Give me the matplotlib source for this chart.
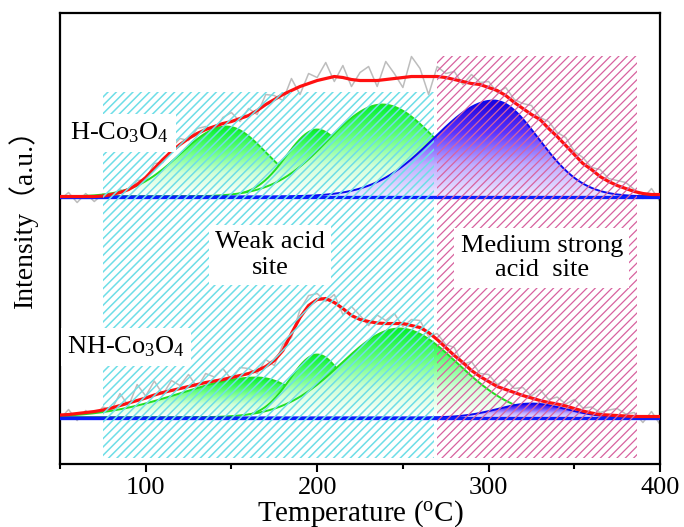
import numpy as np
import matplotlib
matplotlib.use('Agg')
import matplotlib.pyplot as plt
from matplotlib.patches import Rectangle, Polygon
from matplotlib.colors import LinearSegmentedColormap

plt.rcParams['font.family'] = ['Liberation Serif', 'Noto Sans CJK SC']
plt.rcParams['mathtext.fontset'] = 'custom'
plt.rcParams['mathtext.rm'] = 'Liberation Serif'
plt.rcParams['mathtext.default'] = 'regular'
plt.rcParams['hatch.linewidth'] = 1.1

# temperature grid of the read-off curves (°C)
temp = np.arange(50, 401, 5)

# cumulative fit (red), height above each baseline
red_h = [0, 0, 0, 0, 0, 0.5, 2, 4, 7, 12,
         19, 28, 37, 45, 52, 58, 63, 67, 70, 73,
         75, 78, 81, 86, 92, 97, 102, 106, 110, 113,
         116, 118, 120, 119, 117, 116, 116, 116, 117, 118,
         119, 120, 120, 120, 120, 119, 117, 115, 113, 112,
         109, 106, 101, 94, 88, 82, 77, 68, 60, 51,
         42, 33, 27, 20, 15, 11, 8, 5, 3, 2,
         2]
red_nh = [2.5, 3, 4, 5, 6, 7.5, 9.5, 12, 14.5, 17,
          19.5, 22.5, 25, 27, 29, 31, 33, 35, 36.5, 38,
          40, 42, 44, 47, 51, 57, 67, 84, 100, 112,
          118, 119, 115, 109, 102, 98, 96, 94.5, 94, 94,
          94, 92, 90, 85, 78, 70, 62, 55, 47, 41,
          36, 31, 28, 25, 22, 19.5, 17, 15, 13.5, 11.5,
          9, 6.5, 4.5, 3, 2.5, 2, 1.5, 1, 1, 1,
          1]

# raw signal scatter around the fit (grey trace)
noise_h = [-3, 4, -6, 3, -5, 2, -2, 3, -3, 4,
           -2, 5, -3, 4, 6, -2, 5, 3, -4, 6,
           9, -3, 7, -4, 10, 4, -6, 12, -8, 10,
           3, 16, -5, 12, -7, 8, 14, -6, 18, 5,
           -10, 20, 8, -18, 10, 4, 8, -3, 9, 2,
           6, -2, 8, 3, 5, 9, 2, 7, 4, 8,
           3, 6, 2, 7, 3, 5, 6, 2, -5, 6,
           -7]
noise_nh = [-4, 5, -7, 2, -6, 3, -2, 12, -3, 16,
            2, 14, -2, 10, 3, 12, -3, 9, 4, 11,
            -2, 8, 5, -3, 7, -5, 6, -4, 8, 10,
            6, -3, 8, -6, 9, 4, -4, 8, 3, 10,
            -3, 6, 7, -4, 6, 3, 8, -2, 9, 3,
            7, 2, 10, 4, 8, 2, 11, 3, 7, 2,
            9, 3, 6, 2, 5, 7, 2, 4, -6, 5,
            -8]

base_h = 267.5
base_nh = 46.5

# deconvoluted peaks: centre, height, left width, right width
h_green_c = [147, 200, 238]
h_green_a = [70, 67, 92]
h_green_sl = [27, 18, 32]
h_green_sr = [24, 18, 32]
h_blue = [303, 96, 35, 26]

nh_green_c = [165, 200, 248]
nh_green_a = [40, 63, 89]
nh_green_sl = [45, 16, 34]
nh_green_sr = [25, 16, 34]
nh_blue = [325, 14, 20, 20]

green_cmap = LinearSegmentedColormap.from_list('g', ['#ffffff', '#d2ffd8', '#60ff78', '#00f02a'])
blue_cmap = LinearSegmentedColormap.from_list('b', ['#eee8ff', '#c0aeff', '#5a34ff', '#1800dc'])


def split_gauss(x, c, a, sl, sr):
    s = np.where(x < c, sl, sr)
    return a * np.exp(-(x - c) ** 2 / (2 * s ** 2))


def draw_peak(ax, base, c, a, sl, sr, cmap, line_color, z):
    x = np.linspace(50, 400, 701)
    y = base + split_gauss(x, c, a, sl, sr)
    verts = np.column_stack([np.r_[x, x[::-1]], np.r_[y, np.full(x.size, base)]])
    patch = Polygon(verts, closed=True, facecolor='none', edgecolor='none', zorder=z)
    ax.add_patch(patch)
    grad = np.linspace(0, 1, 256).reshape(-1, 1)
    im = ax.imshow(grad, cmap=cmap, origin='lower', aspect='auto',
                   extent=[50, 400, base, base + a], zorder=z, interpolation='bilinear')
    im.set_clip_path(patch)
    ax.plot(x, y, color=line_color, lw=1.4, zorder=z + 0.1)


fig = plt.figure(figsize=(6.84, 5.27), dpi=100)
ax = fig.add_axes([0.0877, 0.1195, 0.8773, 0.8558])

# raw data
ax.plot(temp, base_h + np.array(red_h) + np.array(noise_h), color='#bdbdbd', lw=1.1, zorder=1)
ax.plot(temp, base_nh + np.array(red_nh) + np.array(noise_nh), color='#bdbdbd', lw=1.1, zorder=1)

# peaks
z = 2
for c, a, sl, sr in zip(h_green_c, h_green_a, h_green_sl, h_green_sr):
    draw_peak(ax, base_h, c, a, sl, sr, green_cmap, '#22e022', z)
    z += 0.3
draw_peak(ax, base_h, *h_blue, blue_cmap, '#0a0af0', z)

z = 2
for c, a, sl, sr in zip(nh_green_c, nh_green_a, nh_green_sl, nh_green_sr):
    draw_peak(ax, base_nh, c, a, sl, sr, green_cmap, '#22e022', z)
    z += 0.3
draw_peak(ax, base_nh, *nh_blue, blue_cmap, '#0a0af0', z)

# baselines and fits
ax.plot([50, 400], [base_h, base_h], color='#0a1eff', lw=2.4, zorder=4)
ax.plot([50, 400], [base_nh, base_nh], color='#0a1eff', lw=2.4, zorder=4)
ax.plot(temp, base_h + np.array(red_h), color='#ff1010', lw=2.3, zorder=4.5)
ax.plot(temp, base_nh + np.array(red_nh), color='#ff1010', lw=2.3, zorder=4.5)

# acid site regions
ax.add_patch(Rectangle((75, 6), 193, 366, facecolor='none', edgecolor='#6edee7',
                       hatch='////', lw=0, zorder=6))
with plt.rc_context({'hatch.linewidth': 0.9}):
    ax.add_patch(Rectangle((270, 6), 116.5, 402, facecolor='none', edgecolor='#d8629f',
                           hatch='////', lw=0, zorder=6))

box = dict(facecolor='white', edgecolor='none', pad=4.5)
ax.text(56, 331, r'H-Co$_3$O$_4$', fontsize=19, ha='left', va='center', bbox=box, zorder=7)
ax.text(54, 117, r'NH-Co$_3$O$_4$', fontsize=19, ha='left', va='center', bbox=box, zorder=7)
ax.text(172.5, 209, 'Weak acid\nsite', fontsize=19, ha='center', va='center',
        multialignment='center', linespacing=1.2, bbox=box, zorder=7)
ax.text(331, 206, 'Medium strong\nacid  site', fontsize=19, ha='center', va='center',
        multialignment='center', linespacing=1.15, bbox=box, zorder=7)

ax.set_xlim(50, 400)
ax.set_ylim(0, 451)
ax.set_xticks([100, 200, 300, 400])
ax.set_xticks([50, 150, 250, 350], minor=True)
ax.set_yticks([])
ax.tick_params(axis='x', which='major', direction='out', length=6, width=1.5, labelsize=19, pad=3)
ax.tick_params(axis='x', which='minor', direction='out', length=3.5, width=1.5)
for s in ax.spines.values():
    s.set_linewidth(1.6)

ax.set_xlabel(r'Temperature ($^{o}$C)', fontsize=21)
ax.xaxis.set_label_coords(0.5, -0.075)
ax.set_ylabel('Intensity（a.u.）', fontsize=20)
ax.yaxis.set_label_coords(-0.036, 0.56)

fig.savefig('out.png', dpi=100)
